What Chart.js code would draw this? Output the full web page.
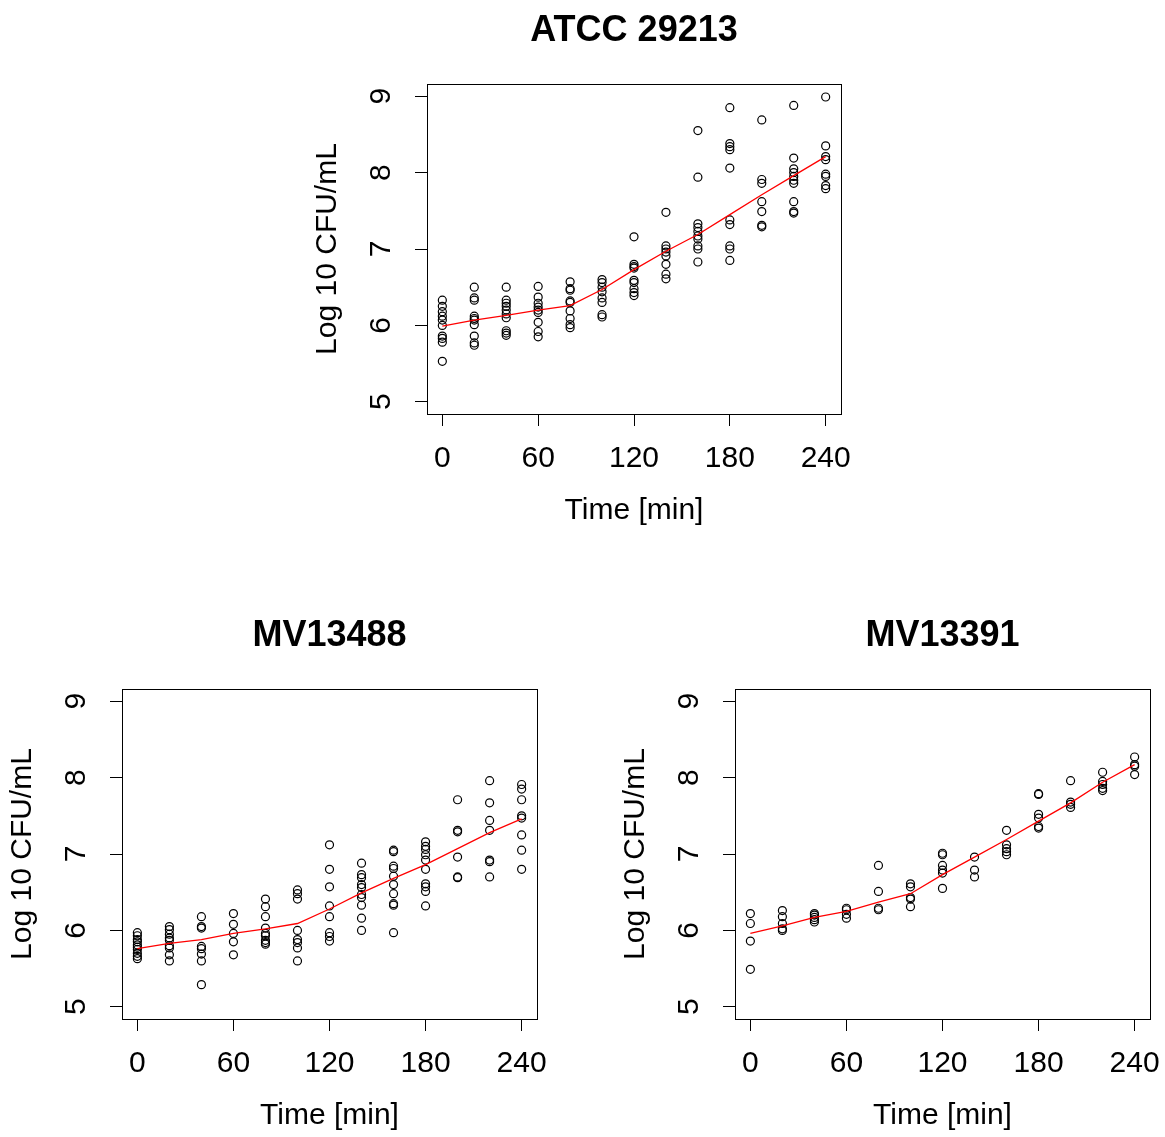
<!DOCTYPE html>
<html>
<head>
<meta charset="utf-8">
<script src="https://cdn.jsdelivr.net/npm/chart.js@4/dist/chart.umd.min.js"></script>
<style>
  html, body { margin: 0; padding: 0; background: #fff; overflow: hidden; }
  body { width: 1165px; height: 1137px; position: relative; }
  canvas { position: absolute; }
</style>
</head>
<body>
<canvas id="chartAtcc" width="564" height="529" style="left:307px;top:0px"></canvas>
<canvas id="chartMv13488" width="565" height="529" style="left:2px;top:605px"></canvas>
<canvas id="chartMv13391" width="565" height="529" style="left:615px;top:605px"></canvas>
<script>
// time points (min) and axis ticks
var timePoints = [0, 20, 40, 60, 80, 100, 120, 140, 160, 180, 200, 220, 240];
var xTicks = [0, 60, 120, 180, 240];
var yTicks = [5, 6, 7, 8, 9];

// ATCC 29213: replicate counts per time point (log10 CFU/mL)
var atccCounts = [
    [6.33, 6.25, 6.18, 6.12, 6.07, 6.00, 5.86, 5.83, 5.78, 5.53],
    [6.50, 6.36, 6.33, 6.12, 6.09, 6.07, 6.01, 5.86, 5.77, 5.74],
    [6.50, 6.33, 6.29, 6.25, 6.20, 6.15, 6.10, 5.93, 5.90, 5.87],
    [6.51, 6.37, 6.29, 6.24, 6.20, 6.17, 6.04, 5.92, 5.85],
    [6.57, 6.48, 6.46, 6.32, 6.30, 6.19, 6.09, 6.01, 5.97],
    [6.60, 6.56, 6.50, 6.44, 6.36, 6.30, 6.14, 6.11],
    [7.16, 6.80, 6.77, 6.75, 6.59, 6.56, 6.48, 6.43, 6.39],
    [7.48, 7.04, 7.00, 6.96, 6.91, 6.80, 6.67, 6.61],
    [8.55, 7.94, 7.33, 7.28, 7.23, 7.17, 7.13, 7.04, 7.00, 6.83],
    [8.85, 8.38, 8.34, 8.30, 8.06, 7.38, 7.32, 7.04, 7.00, 6.85],
    [8.69, 7.91, 7.86, 7.62, 7.49, 7.31, 7.29],
    [8.88, 8.19, 8.05, 8.00, 7.95, 7.90, 7.86, 7.62, 7.49, 7.47],
    [8.99, 8.35, 8.21, 8.17, 7.98, 7.95, 7.83, 7.79]
];
var atccFit = [5.99, 6.07, 6.13, 6.20, 6.26, 6.47, 6.73, 6.97, 7.19, 7.45, 7.71, 7.96, 8.21];

// MV13488
var mv13488Counts = [
    [5.97, 5.93, 5.88, 5.85, 5.81, 5.78, 5.75, 5.70, 5.66, 5.63],
    [6.05, 6.01, 5.95, 5.90, 5.87, 5.80, 5.77, 5.68, 5.60],
    [6.18, 6.05, 6.03, 5.79, 5.76, 5.69, 5.60, 5.29],
    [6.22, 6.08, 5.96, 5.85, 5.68],
    [6.41, 6.31, 6.18, 6.03, 5.96, 5.93, 5.87, 5.84, 5.82],
    [6.53, 6.48, 6.41, 6.00, 5.88, 5.84, 5.77, 5.60],
    [7.12, 6.80, 6.57, 6.32, 6.18, 5.97, 5.92, 5.86],
    [6.88, 6.73, 6.69, 6.60, 6.56, 6.47, 6.43, 6.33, 6.16, 6.00],
    [7.05, 7.03, 6.84, 6.81, 6.71, 6.60, 6.48, 6.35, 6.33, 5.97],
    [7.16, 7.10, 7.06, 6.99, 6.92, 6.80, 6.61, 6.57, 6.51, 6.32],
    [7.71, 7.31, 7.29, 6.96, 6.70, 6.69],
    [7.96, 7.67, 7.44, 7.31, 6.92, 6.90, 6.70],
    [7.91, 7.85, 7.71, 7.50, 7.47, 7.25, 7.05, 6.80]
];
var mv13488Fit = [5.76, 5.83, 5.88, 5.96, 6.02, 6.09, 6.28, 6.49, 6.68, 6.86, 7.07, 7.28, 7.46];

// MV13391
var mv13391Counts = [
    [6.22, 6.09, 5.86, 5.49],
    [6.26, 6.18, 6.09, 6.02, 6.00],
    [6.22, 6.20, 6.17, 6.14, 6.11],
    [6.29, 6.27, 6.21, 6.16],
    [6.85, 6.51, 6.29, 6.27],
    [6.61, 6.57, 6.43, 6.41, 6.31],
    [7.01, 6.99, 6.85, 6.79, 6.75, 6.55],
    [6.96, 6.79, 6.70],
    [7.31, 7.12, 7.07, 7.03, 6.99],
    [7.79, 7.78, 7.52, 7.47, 7.36, 7.34],
    [7.96, 7.68, 7.65, 7.61],
    [8.07, 7.95, 7.91, 7.86, 7.83],
    [8.27, 8.17, 8.15, 8.04]
];
var mv13391Fit = [5.96, 6.06, 6.17, 6.25, 6.37, 6.48, 6.73, 6.96, 7.19, 7.43, 7.67, 7.94, 8.17];

(function () {
    "use strict";

    var FONT = "'Liberation Sans', Arial, Helvetica, sans-serif";
    Chart.defaults.color = "#000";
    Chart.defaults.font.family = FONT;

    // R-style closed box around the plot region
    var boxPlugin = {
        id: "plotBox",
        afterDraw: function (chart) {
            var a = chart.chartArea, ctx = chart.ctx;
            ctx.save();
            ctx.strokeStyle = "#000";
            ctx.lineWidth = 1;
            ctx.strokeRect(Math.round(a.left) + 0.5, Math.round(a.top) + 0.5,
                Math.round(a.right - a.left), Math.round(a.bottom - a.top));
            ctx.restore();
        }
    };

    function toPoints(counts) {
        var pts = [];
        counts.forEach(function (vals, i) {
            vals.forEach(function (v) { pts.push({ x: timePoints[i], y: v }); });
        });
        return pts;
    }

    function toLine(fit) {
        return fit.map(function (v, i) { return { x: timePoints[i], y: v }; });
    }

    function makePanel(canvasId, title, counts, fit) {
        var canvas = document.getElementById(canvasId);
        if (!canvas) return;
        new Chart(canvas, {
            type: "scatter",
            data: {
                datasets: [
                    {
                        type: "line", data: toLine(fit), borderColor: "#ff0000", borderWidth: 1.3,
                        pointRadius: 0, tension: 0, fill: false
                    },
                    {
                        data: toPoints(counts), borderColor: "#000", backgroundColor: "rgba(0,0,0,0)",
                        borderWidth: 1.2, pointRadius: 4, pointStyle: "circle"
                    }
                ]
            },
            options: {
                responsive: false,
                animation: false,
                devicePixelRatio: 1,
                layout: { padding: { left: 0, right: 30, top: 0, bottom: 0 } },
                plugins: {
                    legend: { display: false },
                    tooltip: { enabled: false },
                    title: {
                        display: true, text: title, fullSize: false, color: "#000",
                        font: { size: 36, weight: "bold", family: FONT },
                        padding: { top: 9.7, bottom: 31.1 }
                    }
                },
                scales: {
                    x: {
                        type: "linear", min: -9.6, max: 249.6,
                        border: { display: false },
                        grid: { drawOnChartArea: false, drawTicks: true, tickLength: 12, color: "#000", lineWidth: 1 },
                        ticks: { font: { size: 30 }, padding: 15, autoSkip: false, maxRotation: 0 },
                        afterBuildTicks: function (scale) {
                            scale.ticks = xTicks.map(function (v) { return { value: v }; });
                        },
                        afterFit: function (scale) { scale.height = 115; },
                        title: { display: true, text: "Time [min]", font: { size: 30 }, padding: 0 }
                    },
                    y: {
                        type: "linear", min: 4.84, max: 9.16,
                        border: { display: false },
                        grid: { drawOnChartArea: false, drawTicks: true, tickLength: 12, color: "#000", lineWidth: 1 },
                        ticks: {
                            font: { size: 30 }, padding: 25, autoSkip: false,
                            minRotation: 90, maxRotation: 90, crossAlign: "center"
                        },
                        afterBuildTicks: function (scale) {
                            scale.ticks = yTicks.map(function (v) { return { value: v }; });
                        },
                        afterFit: function (scale) { scale.width = 120; },
                        title: { display: true, text: "Log 10 CFU/mL", font: { size: 30 }, padding: { top: 3, bottom: 0 } }
                    }
                }
            },
            plugins: [boxPlugin]
        });
    }

    makePanel("chartAtcc", "ATCC 29213", atccCounts, atccFit);
    makePanel("chartMv13488", "MV13488", mv13488Counts, mv13488Fit);
    makePanel("chartMv13391", "MV13391", mv13391Counts, mv13391Fit);
})();
</script>
</body>
</html>
